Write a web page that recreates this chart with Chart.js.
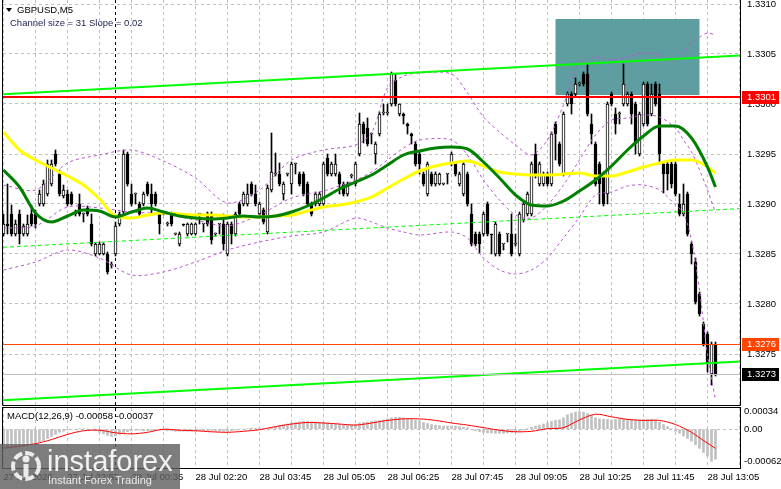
<!DOCTYPE html>
<html>
<head>
<meta charset="utf-8">
<title>GBPUSD,M5</title>
<script src="https://cdn.jsdelivr.net/npm/chart.js@4.4.1/dist/chart.umd.min.js"></script>
<style>
  html, body { margin: 0; padding: 0; background: #fff; }
  #wrap { position: relative; width: 781px; height: 489px; overflow: hidden; font-family: "Liberation Sans", Arial, sans-serif; }
  #mainChart { position: absolute; left: 0; top: 0; }
  #macdChart { position: absolute; left: 0; top: 405px; }
  .lbl { position: absolute; font-size: 9.5px; line-height: 12px; white-space: nowrap; color: #000; }
  #tri { position: absolute; left: 6px; top: 8px; width: 0; height: 0; border-left: 3px solid transparent; border-right: 3px solid transparent; border-top: 4px solid #000; }
  #symbol { left: 17px; top: 4px; }
  #chan { left: 10px; top: 17px; color: #1e2050; }
  #macdTxt { left: 7px; top: 410px; }
  #logo { position: absolute; left: 0; top: 444px; width: 180px; height: 45px; background: rgba(96,96,96,0.82); }
  #logo .brand { position: absolute; left: 47px; top: 3px; font-size: 29px; line-height: 29px; color: rgba(255,255,255,0.9); }
  #logo .sub { position: absolute; left: 48px; top: 30px; font-size: 11px; line-height: 12px; color: rgba(255,255,255,0.85); }
  #logo svg { position: absolute; left: 6px; top: 3px; }
</style>
</head>
<body>
<div id="wrap">
  <canvas id="mainChart" width="781" height="407"></canvas>
  <canvas id="macdChart" width="781" height="84"></canvas>
  <div id="tri"></div>
  <div class="lbl" id="symbol">GBPUSD,M5</div>
  <div class="lbl" id="chan">Channel size = 31 Slope = 0.02</div>
  <div class="lbl" id="macdTxt">MACD(12,26,9) -0.00058 -0.00037</div>
  <div id="logo">
    <svg width="40" height="38" viewBox="0 0 40 38">
      <circle cx="20" cy="19" r="13" fill="none" stroke="rgba(255,255,255,0.85)" stroke-width="4" stroke-dasharray="9 3"/>
      <circle cx="20" cy="12" r="3.5" fill="rgba(255,255,255,0.85)"/>
      <rect x="17.5" y="17" width="5" height="13" fill="rgba(255,255,255,0.85)"/>
    </svg>
    <div class="brand">instaforex</div>
    <div class="sub">Instant Forex Trading</div>
  </div>
</div>
<script>
// GBPUSD M5 bars
const opens = [
  1.32870,1.32880,1.32890,1.32870,1.32890,1.32870,1.32870,1.32890,1.32890,1.32900,
  1.32900,1.32910,1.32920,1.32950,1.32930,1.32908,1.32910,1.32910,1.32891,1.32900,
  1.32890,1.32896,1.32880,1.32850,1.32850,1.32850,1.32850,1.32839,1.32850,1.32880,
  1.32892,1.32950,1.32910,1.32910,1.32900,1.32900,1.32920,1.32910,1.32910,1.32890,
  1.32890,1.32880,1.32890,1.32870,1.32860,1.32880,1.32870,1.32870,1.32870,1.32890,
  1.32880,1.32890,1.32890,1.32870,1.32880,1.32880,1.32850,1.32880,1.32870,1.32900,
  1.32900,1.32900,1.32920,1.32910,1.32890,1.32894,1.32872,1.32914,1.32930,1.32930,
  1.32910,1.32930,1.32920,1.32940,1.32930,1.32930,1.32920,1.32900,1.32900,1.32900,
  1.32900,1.32946,1.32930,1.32930,1.32930,1.32920,1.32910,1.32928,1.32920,1.32950,
  1.32980,1.32976,1.32970,1.32950,1.32970,1.32991,1.32991,1.33000,1.33024,1.32990,
  1.32990,1.32980,1.32970,1.32960,1.32950,1.32930,1.32910,1.32930,1.32920,1.32920,
  1.32920,1.32930,1.32940,1.32940,1.32920,1.32910,1.32930,1.32890,1.32870,1.32870,
  1.32870,1.32900,1.32870,1.32850,1.32870,1.32860,1.32870,1.32870,1.32860,1.32850,
  1.32884,1.32890,1.32890,1.32950,1.32920,1.32920,1.32930,1.32920,1.32980,1.32960,
  1.32930,1.33000,1.33010,1.33010,1.33020,1.33030,1.33030,1.32980,1.32960,1.32940,
  1.32930,1.32910,1.33010,1.32990,1.32990,1.33000,1.33000,1.33010,1.33000,1.32950,
  1.32980,1.33020,1.32990,1.33020,1.33010,1.32940,1.32940,1.32940,1.32940,1.32900,
  1.32890,1.32910,1.32860,1.32842,1.32810,1.32780,1.32770,1.32730,1.32760
];
const highs = [
  1.32890,1.32920,1.32899,1.32884,1.32894,1.32880,1.32889,1.32899,1.32894,1.32914,
  1.32924,1.32944,1.32944,1.32954,1.32934,1.32919,1.32914,1.32912,1.32894,1.32910,
  1.32891,1.32898,1.32890,1.32861,1.32862,1.32861,1.32852,1.32842,1.32882,1.32892,
  1.32954,1.32952,1.32920,1.32911,1.32902,1.32912,1.32922,1.32920,1.32912,1.32892,
  1.32891,1.32882,1.32892,1.32871,1.32872,1.32880,1.32881,1.32881,1.32881,1.32890,
  1.32880,1.32892,1.32892,1.32871,1.32880,1.32890,1.32882,1.32882,1.32892,1.32902,
  1.32912,1.32920,1.32922,1.32919,1.32902,1.32896,1.32919,1.32971,1.32951,1.32941,
  1.32922,1.32931,1.32942,1.32941,1.32932,1.32932,1.32922,1.32902,1.32912,1.32912,
  1.32942,1.32950,1.32942,1.32950,1.32932,1.32922,1.32922,1.32930,1.32942,1.32991,
  1.32982,1.32986,1.32971,1.32962,1.32992,1.33000,1.33000,1.33032,1.33030,1.33000,
  1.32991,1.32981,1.32971,1.32962,1.32952,1.32932,1.32942,1.32932,1.32932,1.32931,
  1.32921,1.32930,1.32952,1.32942,1.32932,1.32942,1.32932,1.32900,1.32872,1.32872,
  1.32892,1.32902,1.32870,1.32882,1.32872,1.32860,1.32870,1.32890,1.32870,1.32892,
  1.32902,1.32912,1.32942,1.32960,1.32942,1.32932,1.32932,1.32972,1.32982,1.32962,
  1.32992,1.33012,1.33012,1.33026,1.33022,1.33032,1.33040,1.32990,1.32962,1.32942,
  1.32932,1.33002,1.33012,1.32996,1.32992,1.33040,1.33012,1.33012,1.33002,1.32992,
  1.33022,1.33022,1.33020,1.33022,1.33020,1.32942,1.32942,1.32942,1.32942,1.32910,
  1.32920,1.32912,1.32862,1.32846,1.32812,1.32782,1.32772,1.32762,1.32762
];
const lows = [
  1.32868,1.32870,1.32868,1.32868,1.32860,1.32868,1.32868,1.32878,1.32876,1.32898,
  1.32898,1.32908,1.32918,1.32938,1.32908,1.32906,1.32898,1.32899,1.32888,1.32888,
  1.32882,1.32888,1.32858,1.32848,1.32849,1.32849,1.32830,1.32836,1.32848,1.32878,
  1.32890,1.32918,1.32898,1.32900,1.32888,1.32898,1.32908,1.32890,1.32898,1.32870,
  1.32889,1.32878,1.32878,1.32869,1.32858,1.32878,1.32868,1.32869,1.32869,1.32880,
  1.32872,1.32878,1.32860,1.32868,1.32870,1.32854,1.32848,1.32860,1.32868,1.32888,
  1.32898,1.32898,1.32908,1.32898,1.32888,1.32880,1.32870,1.32912,1.32928,1.32918,
  1.32904,1.32928,1.32910,1.32930,1.32918,1.32908,1.32898,1.32888,1.32898,1.32898,
  1.32898,1.32928,1.32928,1.32928,1.32910,1.32908,1.32908,1.32926,1.32918,1.32948,
  1.32961,1.32958,1.32960,1.32940,1.32968,1.32989,1.32989,1.32998,1.32998,1.32988,
  1.32980,1.32970,1.32960,1.32938,1.32930,1.32918,1.32908,1.32918,1.32918,1.32919,
  1.32919,1.32920,1.32938,1.32928,1.32918,1.32908,1.32898,1.32858,1.32858,1.32851,
  1.32868,1.32868,1.32850,1.32848,1.32848,1.32854,1.32862,1.32848,1.32858,1.32848,
  1.32882,1.32888,1.32888,1.32926,1.32918,1.32918,1.32918,1.32918,1.32944,1.32938,
  1.32928,1.32998,1.32990,1.33008,1.33018,1.33018,1.32988,1.32960,1.32918,1.32900,
  1.32898,1.32900,1.32998,1.32970,1.32980,1.32998,1.32998,1.32980,1.32950,1.32948,
  1.32978,1.32978,1.32988,1.32998,1.32940,1.32911,1.32914,1.32916,1.32908,1.32888,
  1.32888,1.32868,1.32840,1.32800,1.32788,1.32758,1.32732,1.32719,1.32728
];
const closes = [
  1.32880,1.32878,1.32870,1.32880,1.32870,1.32878,1.32880,1.32880,1.32880,1.32910,
  1.32920,1.32940,1.32940,1.32940,1.32910,1.32914,1.32900,1.32900,1.32890,1.32890,
  1.32890,1.32890,1.32860,1.32860,1.32860,1.32860,1.32832,1.32840,1.32878,1.32890,
  1.32950,1.32920,1.32900,1.32910,1.32890,1.32910,1.32910,1.32900,1.32900,1.32880,
  1.32890,1.32880,1.32880,1.32870,1.32870,1.32879,1.32880,1.32880,1.32880,1.32890,
  1.32880,1.32880,1.32864,1.32870,1.32880,1.32860,1.32880,1.32870,1.32890,1.32890,
  1.32910,1.32910,1.32910,1.32900,1.32900,1.32882,1.32916,1.32932,1.32930,1.32920,
  1.32920,1.32930,1.32940,1.32940,1.32920,1.32910,1.32900,1.32890,1.32910,1.32910,
  1.32940,1.32930,1.32940,1.32940,1.32920,1.32910,1.32920,1.32929,1.32940,1.32980,
  1.32970,1.32960,1.32970,1.32960,1.32990,1.32991,1.32991,1.33030,1.33000,1.33000,
  1.32988,1.32978,1.32968,1.32940,1.32940,1.32920,1.32940,1.32920,1.32930,1.32930,
  1.32920,1.32930,1.32950,1.32930,1.32930,1.32940,1.32900,1.32860,1.32860,1.32860,
  1.32890,1.32870,1.32869,1.32880,1.32850,1.32860,1.32870,1.32850,1.32860,1.32890,
  1.32900,1.32910,1.32940,1.32930,1.32940,1.32930,1.32920,1.32970,1.32970,1.32940,
  1.32990,1.33010,1.33000,1.33020,1.33020,1.33020,1.32990,1.32970,1.32920,1.32920,
  1.32900,1.33000,1.33000,1.32980,1.32990,1.33020,1.33010,1.32990,1.32960,1.32990,
  1.33020,1.32980,1.33010,1.33000,1.32950,1.32930,1.32930,1.32920,1.32910,1.32890,
  1.32900,1.32870,1.32850,1.32802,1.32790,1.32760,1.32740,1.32760,1.32730
];

// time axis labels, one every 16 bars
const timeLabels = ['27 Jul 2026', '27 Jul 22:55', '28 Jul 00:35', '28 Jul 02:20', '28 Jul 03:45', '28 Jul 05:05',
  '28 Jul 06:25', '28 Jul 07:45', '28 Jul 09:05', '28 Jul 10:25', '28 Jul 11:45', '28 Jul 13:05'];

// moving averages, read every 4 bars
const maBars = [0,4,8,12,16,20,24,28,32,36,40,44,48,52,56,60,64,68,72,76,80,84,88,92,96,100,104,108,112,116,
  120,124,128,132,136,140,144,148,152,156,160,164,168,172,176,178];
const maYellow = [1.32972,1.32954,1.32944,1.32936,1.32928,1.32919,1.32905,1.32888,1.32886,1.32889,
  1.32891,1.32890,1.32889,1.32889,1.32888,1.32887,1.32887,1.32888,1.32889,1.32893,
  1.32897,1.32899,1.32902,1.32907,1.32916,1.32925,1.32933,1.32938,1.32941,1.32943,
  1.32938,1.32932,1.32930,1.32929,1.32929,1.32930,1.32931,1.32928,1.32928,1.32932,
  1.32937,1.32941,1.32944,1.32944,1.32937,1.32931];
const maGreen = [1.32934,1.32917,1.32891,1.32882,1.32888,1.32894,1.32893,1.32887,1.32892,1.32896,
  1.32892,1.32888,1.32886,1.32885,1.32886,1.32888,1.32887,1.32888,1.32892,1.32898,
  1.32906,1.32915,1.32922,1.32929,1.32939,1.32949,1.32953,1.32956,1.32957,1.32955,
  1.32942,1.32926,1.32909,1.32899,1.32898,1.32903,1.32913,1.32924,1.32938,1.32954,
  1.32968,1.32978,1.32978,1.32966,1.32937,1.32917];

// bollinger bands
const bandBars = [0,8,16,24,32,40,48,56,64,72,80,88,92,96,100,104,112,116,120,124,128,132,136,140,
  144,148,152,156,160,164,168,170,172,174,176,178];
const bandUpper = [1.32919,1.32914,1.32941,1.32949,1.32954,1.32943,1.32926,1.32901,1.32914,1.32944,
  1.32954,1.32959,1.32971,1.33016,1.33028,1.33031,1.33030,1.33011,1.32987,1.32972,
  1.32959,1.32949,1.32964,1.32999,1.33041,1.33047,1.33044,1.33047,1.33051,1.33049,
  1.33044,1.33052,1.33061,1.33067,1.33071,1.33069];
const bandMiddle = [1.32876,1.32878,1.32897,1.32896,1.32892,1.32890,1.32884,1.32878,1.32889,1.32906,
  1.32913,1.32924,1.32932,1.32944,1.32956,1.32964,1.32964,1.32949,1.32924,1.32904,
  1.32889,1.32886,1.32899,1.32919,1.32944,1.32969,1.32984,1.32986,1.32989,1.32987,
  1.32976,1.32964,1.32952,1.32934,1.32914,1.32891];
const bandLower = [1.32834,1.32842,1.32854,1.32846,1.32829,1.32832,1.32842,1.32854,1.32862,1.32868,
  1.32872,1.32886,1.32882,1.32876,1.32872,1.32869,1.32872,1.32866,1.32846,1.32834,
  1.32830,1.32834,1.32846,1.32866,1.32887,1.32909,1.32912,1.32918,1.32919,1.32914,
  1.32899,1.32891,1.32864,1.32814,1.32749,1.32704];

// regression channel, price at left and right edge
const channelUpper = [1.330097, 1.330484];
const channelMiddle = [1.328567, 1.328954];
const channelLower = [1.327037, 1.327424];

// MACD(12,26,9)
const macdMain = [
  -0.00036,-0.00036,-0.00035,-0.00035,-0.00034,-0.00033,-0.00032,-0.00030,-0.00028,-0.00025,
  -0.00022,-0.00018,-0.00014,-0.00010,-0.00006,-0.00004,-0.00002,-0.00001,0.00000,0.00001,
  0.00001,0.00000,-0.00001,-0.00003,-0.00006,-0.00009,-0.00012,-0.00014,-0.00013,-0.00010,
  -0.00007,-0.00005,-0.00003,-0.00002,-0.00002,-0.00003,-0.00003,-0.00003,-0.00002,-0.00002,
  -0.00002,-0.00003,-0.00003,-0.00004,-0.00004,-0.00004,-0.00004,-0.00004,-0.00004,-0.00003,
  -0.00003,-0.00003,-0.00003,-0.00004,-0.00004,-0.00004,-0.00004,-0.00003,-0.00002,-0.00001,
  0.00000,0.00001,0.00002,0.00002,0.00002,0.00001,0.00001,0.00003,0.00005,0.00007,
  0.00009,0.00010,0.00012,0.00013,0.00014,0.00015,0.00015,0.00014,0.00014,0.00013,
  0.00013,0.00012,0.00011,0.00010,0.00010,0.00009,0.00009,0.00009,0.00010,0.00012,
  0.00013,0.00014,0.00015,0.00016,0.00017,0.00018,0.00020,0.00022,0.00023,0.00023,
  0.00022,0.00021,0.00020,0.00018,0.00016,0.00013,0.00011,0.00009,0.00008,0.00007,
  0.00006,0.00006,0.00006,0.00006,0.00005,0.00004,0.00003,0.00000,-0.00003,-0.00005,
  -0.00006,-0.00007,-0.00007,-0.00008,-0.00008,-0.00008,-0.00007,-0.00006,-0.00005,-0.00003,
  -0.00002,0.00001,0.00004,0.00006,0.00008,0.00010,0.00012,0.00015,0.00017,0.00018,
  0.00022,0.00028,0.00031,0.00033,0.00034,0.00033,0.00030,0.00027,0.00022,0.00020,
  0.00019,0.00019,0.00018,0.00019,0.00020,0.00020,0.00019,0.00019,0.00018,0.00018,
  0.00019,0.00019,0.00019,0.00018,0.00014,0.00009,0.00005,0.00001,-0.00004,-0.00008,
  -0.00013,-0.00018,-0.00023,-0.00030,-0.00037,-0.00045,-0.00052,-0.00062,-0.00058
];
const signalBars = [0,8,12,16,20,24,28,32,36,40,44,48,52,56,60,64,68,72,76,80,84,88,92,96,100,104,108,112,
  116,120,124,128,132,136,140,144,148,152,156,160,164,168,172,175,178];
const macdSignal = [-0.00037,-0.00028,-0.00020,-0.00010,-0.00003,-0.00002,-0.00007,-0.00009,-0.00006,0.00000,
  -0.00002,-0.00003,-0.00005,-0.00006,-0.00004,-0.00001,0.00005,0.00010,0.00013,0.00012,
  0.00010,0.00008,0.00012,0.00017,0.00020,0.00020,0.00017,0.00012,0.00008,0.00003,
  -0.00002,-0.00005,-0.00004,0.00001,0.00003,0.00018,0.00029,0.00024,0.00019,0.00017,
  0.00017,0.00009,-0.00006,-0.00022,-0.00037];

// levels and objects
const levelRed = 1.33007;
const levelOrange = 1.32760;
const levelBid = 1.32730;
const zoneBars = [138, 174];
const zonePrices = [1.33009, 1.33085];
const daySeparator = 27.875;

Chart.defaults.font.family = '"Liberation Sans", Arial, sans-serif';
Chart.defaults.font.size = 9.5;
Chart.defaults.color = '#000';
Chart.defaults.animation = false;
Chart.defaults.plugins.legend.display = false;
Chart.defaults.plugins.tooltip.enabled = false;

const xMin = -0.125, xMax = 184.125;
const idx = opens.map((o, i) => i);
const pts = (xs, ys) => xs.map((x, k) => ({ x: x, y: ys[k] }));

function xScale(showLabels) {
  return {
    type: 'linear', min: xMin, max: xMax, offset: false,
    ticks: {
      display: showLabels, stepSize: 8, includeBounds: false, autoSkip: false, maxRotation: 0,
      align: 'start', padding: 4,
      callback: v => (v % 16 === 0 ? timeLabels[v / 16] : '')
    },
    grid: { color: '#c0c0c0', drawTicks: false, offset: false },
    border: { display: false, dash: [3, 3] },
    afterFit: s => { s.height = showLabels ? 21 : 0; s.paddingLeft = 0; s.paddingRight = 0; }
  };
}

function vline(ctx, area, px) {
  ctx.save();
  ctx.strokeStyle = '#000';
  ctx.lineWidth = 1;
  ctx.setLineDash([3, 3]);
  ctx.beginPath();
  ctx.moveTo(Math.round(px) + 0.5, area.top);
  ctx.lineTo(Math.round(px) + 0.5, area.bottom);
  ctx.stroke();
  ctx.restore();
}

const mainDecor = {
  id: 'mainDecor',
  beforeDatasetsDraw(chart) {
    const { ctx, chartArea: a, scales: { x, y } } = chart;
    ctx.save();
    ctx.fillStyle = '#5f9ea0';
    const x0 = x.getPixelForValue(zoneBars[0]), x1 = x.getPixelForValue(zoneBars[1]);
    const y0 = y.getPixelForValue(zonePrices[1]), y1 = y.getPixelForValue(zonePrices[0]);
    ctx.fillRect(x0, y0, x1 - x0, y1 - y0);
    ctx.restore();
    vline(ctx, a, x.getPixelForValue(daySeparator));
  },
  afterDatasetsDraw(chart) {
    const { ctx, chartArea: a, scales: { y } } = chart;
    ctx.save();
    [[levelRed, '#ff0000', 2], [levelOrange, '#ff4500', 1], [levelBid, '#c0c0c0', 1]].forEach(([v, c, w]) => {
      const py = Math.round(y.getPixelForValue(v)) + (w === 1 ? 0.5 : 0);
      ctx.strokeStyle = c;
      ctx.lineWidth = w;
      ctx.beginPath();
      ctx.moveTo(a.left, py);
      ctx.lineTo(a.right, py);
      ctx.stroke();
    });
    ctx.strokeStyle = '#000';
    ctx.lineWidth = 1;
    ctx.beginPath();
    ctx.moveTo(a.left - 0.5, 0);
    ctx.lineTo(a.left - 0.5, a.bottom + 0.5);
    ctx.lineTo(a.right + 0.5, a.bottom + 0.5);
    ctx.lineTo(a.right + 0.5, 0);
    ctx.stroke();
    ctx.restore();
  },
  afterDraw(chart) {
    const { ctx, chartArea: a, scales: { y } } = chart;
    ctx.save();
    ctx.font = '9.5px "Liberation Sans", Arial, sans-serif';
    ctx.textBaseline = 'middle';
    [[levelRed, '#ff0000'], [levelOrange, '#ff4500'], [levelBid, '#000000']].forEach(([v, c]) => {
      const py = Math.round(y.getPixelForValue(v));
      ctx.fillStyle = c;
      ctx.fillRect(a.right + 2, py - 6, 37, 13);
      ctx.fillStyle = '#fff';
      ctx.fillText(v.toFixed(4), a.right + 7, py + 0.5);
    });
    ctx.restore();
  }
};

new Chart(document.getElementById('mainChart'), {
  type: 'bar',
  data: {
    datasets: [
      { type: 'bar', data: idx.map(i => ({ x: i, y: [lows[i], highs[i]] })), backgroundColor: '#000',
        borderWidth: 0, barThickness: 1, minBarLength: 1, grouped: false, order: 10 },
      { type: 'bar', data: idx.map(i => ({ x: i, y: [opens[i], closes[i]] })),
        backgroundColor: idx.map(i => (closes[i] >= opens[i] ? '#ffffff' : '#000000')),
        borderColor: '#000', borderWidth: 1, borderSkipped: false, barThickness: 3, minBarLength: 1,
        grouped: false, order: 9 },
      { type: 'line', data: pts(bandBars, bandUpper), borderColor: '#ba55d3', borderWidth: 1, borderDash: [3, 3],
        pointRadius: 0, tension: 0.3, order: 6 },
      { type: 'line', data: pts(bandBars, bandMiddle), borderColor: '#ba55d3', borderWidth: 1, borderDash: [3, 3],
        pointRadius: 0, tension: 0.3, order: 6 },
      { type: 'line', data: pts(bandBars, bandLower), borderColor: '#ba55d3', borderWidth: 1, borderDash: [3, 3],
        pointRadius: 0, tension: 0.3, order: 6 },
      { type: 'line', data: pts(maBars, maYellow), borderColor: '#ffff00', borderWidth: 3,
        pointRadius: 0, cubicInterpolationMode: 'monotone', order: 5 },
      { type: 'line', data: pts(maBars, maGreen), borderColor: '#008000', borderWidth: 3,
        pointRadius: 0, cubicInterpolationMode: 'monotone', order: 4 },
      { type: 'line', data: pts([xMin, xMax], channelUpper), borderColor: '#00ff00', borderWidth: 2, pointRadius: 0, order: 3 },
      { type: 'line', data: pts([xMin, xMax], channelMiddle), borderColor: '#00ff00', borderWidth: 1, borderDash: [4, 3], pointRadius: 0, order: 3 },
      { type: 'line', data: pts([xMin, xMax], channelLower), borderColor: '#00ff00', borderWidth: 2, pointRadius: 0, order: 3 }
    ]
  },
  options: {
    responsive: false,
    layout: { padding: { left: 3, top: 0, right: 0, bottom: 2 } },
    scales: {
      x: xScale(false),
      y: {
        position: 'right', min: 1.32699, max: 1.33104, beginAtZero: false,
        ticks: { stepSize: 0.0005, includeBounds: false, padding: 7, callback: v => v.toFixed(4) },
        grid: { color: '#c0c0c0', drawTicks: false },
        border: { display: false, dash: [3, 3] },
        afterBuildTicks: s => { s.ticks = s.ticks.filter(t => t.value > 1.3272); },
        afterFit: s => { s.width = 41; s.paddingTop = 0; s.paddingBottom = 0; }
      }
    }
  },
  plugins: [mainDecor]
});

const macdDecor = {
  id: 'macdDecor',
  beforeDatasetsDraw(chart) {
    vline(chart.ctx, chart.chartArea, chart.scales.x.getPixelForValue(daySeparator));
  },
  afterDatasetsDraw(chart) {
    const { ctx, chartArea: a } = chart;
    ctx.save();
    ctx.strokeStyle = '#000';
    ctx.lineWidth = 1;
    ctx.strokeRect(a.left - 0.5, a.top - 0.5, a.right - a.left + 1, a.bottom - a.top + 1);
    ctx.restore();
  }
};

new Chart(document.getElementById('macdChart'), {
  type: 'bar',
  data: {
    datasets: [
      { type: 'bar', data: idx.map(i => ({ x: i, y: macdMain[i] })), backgroundColor: '#c0c0c0',
        borderWidth: 0, barThickness: 2, grouped: false, order: 2 },
      { type: 'line', data: pts(signalBars, macdSignal), borderColor: '#ff0000', borderWidth: 1,
        pointRadius: 0, tension: 0.3, order: 1 }
    ]
  },
  options: {
    responsive: false,
    layout: { padding: { left: 3, top: 3, right: 0, bottom: 0 } },
    scales: {
      x: xScale(true),
      y: {
        position: 'right', min: -0.00075, max: 0.00041, beginAtZero: false,
        ticks: { padding: 4, callback: v => (v === 0 ? '0.00' : v.toFixed(5)) },
        grid: { drawTicks: false, color: c => (c.tick && c.tick.value === 0 ? '#c0c0c0' : 'rgba(0,0,0,0)') },
        border: { display: false, dash: [3, 3] },
        afterBuildTicks: s => { s.ticks = [0.00034, 0, -0.00062].map(v => ({ value: v })); },
        afterFit: s => { s.width = 41; s.paddingTop = 0; s.paddingBottom = 0; }
      }
    }
  },
  plugins: [macdDecor]
});
</script>
</body>
</html>
